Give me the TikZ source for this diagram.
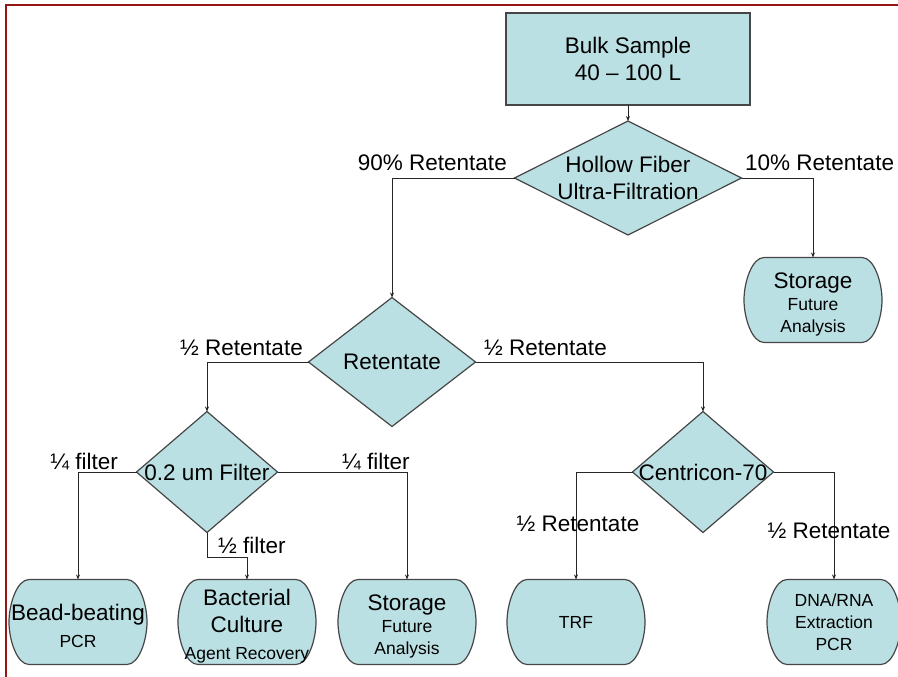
\documentclass[tikz,border=0pt]{standalone}
\usepackage{fontspec}
\setmainfont{Liberation Sans}
\usetikzlibrary{shapes.geometric,arrows.meta}
\definecolor{boxfill}{RGB}{187,224,227}
\definecolor{boxline}{RGB}{70,70,70}
\definecolor{framered}{RGB}{150,22,22}
\newcommand{\bigtxt}{\fontsize{22.5}{27}\selectfont}
\newcommand{\smalltxt}{\fontsize{17.5}{22}\selectfont}
\tikzset{flow/.style={draw=boxline, line width=1.2pt, fill=boxfill, inner sep=0pt, outer sep=0pt}}
\tikzset{sample/.style={flow, rectangle, minimum width=244, minimum height=92, align=center, font=\bigtxt}}
\tikzset{choice/.style 2 args={flow, diamond, minimum width=#1, minimum height=#2}}
\tikzset{result/.style={rectangle, minimum width=138, minimum height=85, inner sep=0pt, outer sep=0pt}}
\tikzset{word/.style={inner sep=0pt, align=center, font=\bigtxt}}
\tikzset{note/.style={word, font=\smalltxt}}
\tikzset{inside/.style={yshift=-4pt}}
\tikzset{link/.style={draw=black!85, line width=1pt, -{Stealth[length=5pt,width=4pt]}}}

\begin{document}
\begin{tikzpicture}[x=1pt,y=-1pt]
\useasboundingbox (0,0) rectangle (898,677);
\draw[framered, line width=2.5pt] (6,680) -- (6,5) -- (900,5);

\node[sample] (bulk) at (628,59) {Bulk Sample\\40 \textendash{} 100 L};
\node[choice={227}{114}] (hf) at (628,178) {};
\node[choice={167}{129}] (ret) at (392,362) {};
\node[choice={141}{121}] (fil) at (207,472) {};
\node[choice={141}{121}] (cen) at (703,472) {};
\node[result] (st) at (813,300) {};
\node[result] (bead) at (78,622) {};
\node[result] (cult) at (247,622) {};
\node[result] (st2) at (407,622) {};
\node[result] (trf) at (576,622) {};
\node[result, minimum width=134] (dna) at (834,622) {};

\foreach \b in {st,bead,cult,st2,trf,dna}
  \draw[flow] ([xshift=20pt]\b.north west) -- ([xshift=-20pt]\b.north east)
    .. controls ([xshift=-8pt]\b.north east) and ([yshift=18pt]\b.east) .. (\b.east)
    .. controls ([yshift=-18pt]\b.east) and ([xshift=-8pt]\b.south east) .. ([xshift=-20pt]\b.south east)
    -- ([xshift=20pt]\b.south west)
    .. controls ([xshift=8pt]\b.south west) and ([yshift=-18pt]\b.west) .. (\b.west)
    .. controls ([yshift=18pt]\b.west) and ([xshift=8pt]\b.north west) .. cycle;

\node[word] (hftext) at (hf) {Hollow Fiber\\Ultra-Filtration};
\node[word] (rettext) at (ret) {Retentate};
\node[word] (filtext) at (fil) {0.2 um Filter};
\node[word] (centext) at (cen) {Centricon-70};
\node[note, inside] (sttext) at (st) {{\bigtxt Storage}\\Future\\Analysis};
\node[word, inside] (beadtext) at (bead) {Bead-beating\\{\smalltxt PCR}};
\node[word, inside] (culttext) at (cult) {Bacterial\\Culture\\{\smalltxt Agent Recovery}};
\node[note, inside] (st2text) at (st2) {{\bigtxt Storage}\\Future\\Analysis};
\node[note] (trftext) at (trf) {TRF};
\node[note] (dnatext) at (dna) {DNA/RNA\\Extraction\\PCR};

\coordinate (fbend) at (207,557);
\draw[link] (bulk) -- (hf);
\draw[link] (hf.west) -| (ret.north);
\draw[link] (hf.east) -| (st.north);
\draw[link] (ret.west) -| (fil.north);
\draw[link] (ret.east) -| (cen.north);
\draw[link] (fil.west) -| (bead.north);
\draw[link] (fil.east) -| (st2.north);
\draw[link] (fil.south) -- (fbend) -| (cult.north);
\draw[link] (cen.west) -| (trf.north);
\draw[link] (cen.east) -| (dna.north);

\node[word, anchor=base east] (l90) at (507,171) {90\% Retentate};
\node[word, anchor=base west] (l10) at (745,171) {10\% Retentate};
\node[word, anchor=base east] (lretl) at (303,355) {½ Retentate};
\node[word, anchor=base west] (lretr) at (484,355) {½ Retentate};
\node[word, anchor=base east] (lfill) at (118,469) {¼ filter};
\node[word, anchor=base west] (lfilr) at (342,469) {¼ filter};
\node[word, anchor=base west] (lfilb) at (218,553) {½ filter};
\node[word, anchor=base] (lcenl) at (578,531) {½ Retentate};
\node[word, anchor=base] (lcenr) at (829,538) {½ Retentate};
\end{tikzpicture}
\end{document}
